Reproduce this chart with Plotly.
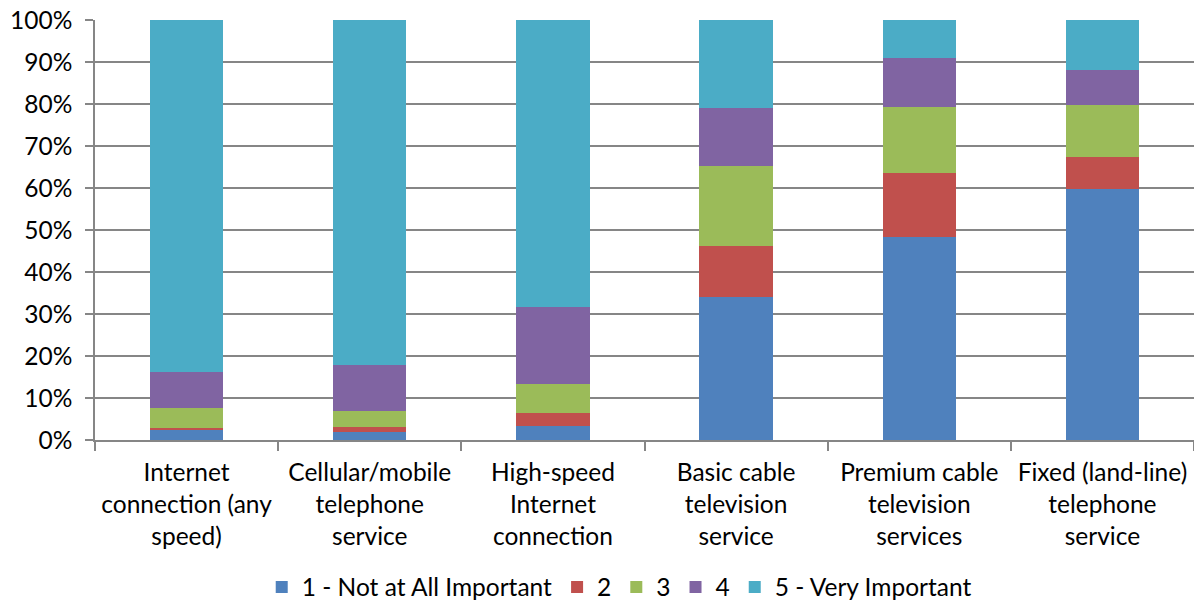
import plotly.graph_objects as go

categories = [
    "Internet<br>connection (any<br>speed)",
    "Cellular/mobile<br>telephone<br>service",
    "High-speed<br>Internet<br>connection",
    "Basic cable<br>television<br>service",
    "Premium cable<br>television<br>services",
    "Fixed (land-line)<br>telephone<br>service",
]
series_names = ["1 - Not at All Important", "2", "3", "4", "5 - Very Important"]
s1 = [2.5, 2.0, 3.35, 34.05, 48.3, 59.7]
s2 = [0.3, 1.1, 3.15, 12.15, 15.3, 7.6]
s3 = [4.9, 3.9, 6.95, 18.95, 15.6, 12.4]
s4 = [8.5, 10.85, 18.1, 13.95, 11.8, 8.45]
s5 = [83.8, 82.15, 68.45, 20.9, 9.0, 11.85]
colors = ["#4F81BD", "#C0504D", "#9BBB59", "#8064A2", "#4BACC6"]

fig = go.Figure()
for name, vals, col in zip(series_names, [s1, s2, s3, s4, s5], colors):
    fig.add_trace(go.Bar(x=categories, y=vals, name=name,
                         marker=dict(color=col, line=dict(width=0))))

font = "Lato"
fs = 24.5
fig.update_layout(
    barmode="stack",
    bargap=0.6,
    width=1194, height=600,
    margin=dict(l=95, r=0, t=20, b=160, autoexpand=False),
    plot_bgcolor="white", paper_bgcolor="white",
    font=dict(family=font, size=fs, color="#000000"),
    legend=dict(orientation="h", x=0.477, xanchor="center", y=-0.35, yanchor="middle",
                font=dict(size=fs), traceorder="normal", itemwidth=30),
    xaxis=dict(showline=True, linecolor="#868686", linewidth=1.5, automargin=False,
               ticks="outside", tickson="boundaries", ticklen=9, tickcolor="#868686",
               tickwidth=1.5, showgrid=False, tickfont=dict(size=fs),
               ticklabelstandoff=10),
    yaxis=dict(range=[0, 100], dtick=10, ticksuffix="%", showline=True, automargin=False,
               linecolor="#868686", linewidth=1.5, ticks="outside", ticklen=8,
               tickcolor="#868686", tickwidth=1.5, showgrid=True,
               gridcolor="#868686", gridwidth=1.5, zeroline=False,
               tickfont=dict(size=fs), ticklabelstandoff=8, ticklabeloverflow="allow"),
)

fig.write_html("out.html", config={"displayModeBar": False},
               post_script="document.body.style.margin='0';")
